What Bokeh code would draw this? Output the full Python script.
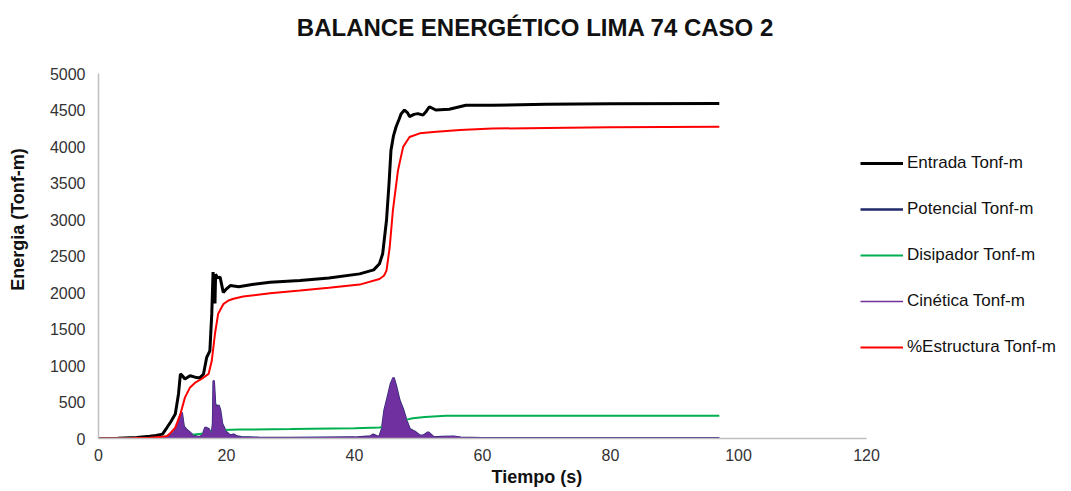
from bokeh.plotting import figure
from bokeh.models import Range1d, Legend, LegendItem, FixedTicker, Title, Label
from bokeh.embed import file_html
from bokeh.resources import INLINE

# ---- data ----
t_entrada = [0, 3, 6, 8, 9, 10, 10.7, 11.3, 12, 12.5, 12.8, 13.1, 13.5, 14.3, 15.1, 15.8, 16.4,
             16.9, 17.4, 17.7, 17.9, 18.1, 18.2, 18.3, 18.6, 19.0, 19.5, 20.0, 20.6, 21.9, 24,
             26.8, 31.5, 36, 40.8, 43, 43.9, 44.4, 45.0, 45.4, 45.7, 46.1, 46.5, 47.0, 47.3,
             47.8, 48.3, 48.6, 49.3, 49.9, 50.7, 51.2, 51.7, 52.7, 54.8, 57.4, 61.5, 69.9, 80, 97]
e_entrada = [0, 5, 15, 30, 40, 60, 150, 230, 335, 610, 885, 860, 815, 860, 840, 830, 880,
             1110, 1200, 1710, 2280, 2000, 1850, 2250, 2200, 2210, 2000, 2050, 2095, 2080, 2110,
             2140, 2163, 2200, 2255, 2310, 2395, 2530, 2990, 3500, 3950, 4150, 4270, 4380, 4450,
             4500, 4460, 4410, 4440, 4450, 4430, 4480, 4545, 4500, 4510, 4565, 4565, 4580, 4585, 4590]

t_estructura = [0, 5, 8, 10, 10.7, 11.3, 12, 12.8, 13.5, 14.3, 15.1, 16.1, 17.2, 17.7, 18.2, 18.7,
                19.5, 20.3, 21.1, 22.6, 26.8, 31.5, 36, 40.8, 43.9, 44.6, 45.0, 45.5, 46.0, 46.8,
                47.6, 48.6, 50.2, 52.3, 56.5, 61.5, 70, 80, 97]
e_estructura = [0, 3, 10, 25, 35, 80, 150, 335, 560, 700, 765, 815, 885, 1065, 1435, 1710,
                1840, 1890, 1915, 1945, 1990, 2026, 2065, 2108, 2185, 2230, 2300, 2620, 3125, 3675,
                3995, 4130, 4180, 4200, 4225, 4245, 4255, 4265, 4270]

t_disipador = [0, 10, 11.7, 12.5, 13.8, 15, 16.5, 17.5, 18.5, 19.5, 22, 30, 40, 43.9, 46, 47, 48,
               49.1, 51, 54.3, 60, 97]
e_disipador = [0, 0, 5, 15, 35, 55, 70, 85, 100, 117, 122, 130, 142, 150, 175, 220, 255,
               277, 295, 310, 312, 312]

t_cin = [0, 10, 11, 11.8, 12.4, 12.8, 13.0, 13.3, 13.8, 14.3, 14.8, 15.5, 16.0, 16.4, 16.7, 17.2,
         17.7, 17.9, 18.0, 18.2, 18.4, 18.75, 19.0, 19.3, 19.9, 20.6, 21.1, 21.6, 22.3, 25, 30,
         35, 40, 42.5, 42.9, 43.4, 43.9, 44.3, 44.7, 45.2, 45.7, 46.1, 46.5, 47.0, 47.6, 48.1,
         48.6, 49.4, 50.2, 50.8, 51.5, 52.3, 53.0, 53.7, 55.5, 56.6, 60, 97]
e_cinetica = [0, 5, 20, 80, 180, 330, 360, 160, 110, 80, 35, 20, 25, 70, 150, 125,
              40, 200, 800, 470, 420, 450, 380, 195, 85, 35, 50, 25, 15, 10, 8,
              10, 12, 25, 50, 30, 20, 120, 380, 560, 745, 835, 700, 515, 380, 240,
              125, 90, 35, 40, 80, 20, 15, 20, 25, 10, 5, 5]
e_potencial = [0, 4, 18, 78, 175, 325, 355, 165, 112, 78, 38, 22, 24, 72, 148, 128,
               42, 205, 790, 480, 425, 455, 385, 200, 88, 38, 52, 27, 16, 10, 8,
               10, 12, 27, 52, 32, 22, 125, 385, 565, 750, 830, 710, 525, 390, 245,
               130, 92, 38, 42, 82, 22, 16, 20, 24, 10, 5, 5]

labels = ["Entrada Tonf-m", "Potencial Tonf-m", "Disipador Tonf-m", "Cinética Tonf-m",
          "%Estructura Tonf-m"]
x_ticks = [0, 20, 40, 60, 80, 100, 120]
y_ticks = [0, 500, 1000, 1500, 2000, 2500, 3000, 3500, 4000, 4500, 5000]
chart_title = "BALANCE ENERGÉTICO LIMA 74 CASO 2"
x_label = "Tiempo (s)"
y_label = "Energia (Tonf-m)"

FONT = "Liberation Sans"
W, H = 1071, 491
LEFT = 98
BOTTOM = 53
PX_X = 6.4                      # pixels per second on the time axis
PX_Y = (H - BOTTOM - 73) / 5000  # pixels per Tonf-m (5000 sits 73 px below the top)
X_END = (W - LEFT) / PX_X        # extra room on the right holds the legend
Y_END = (H - BOTTOM) / PX_Y      # extra room on top holds the title

p = figure(width=W, height=H, output_backend="svg", toolbar_location=None,
           x_range=Range1d(0, X_END), y_range=Range1d(0, Y_END),
           min_border_left=LEFT, min_border_right=0, min_border_top=0, min_border_bottom=BOTTOM)
p.background_fill_color = "white"
p.border_fill_color = "white"
p.outline_line_color = None
p.grid.visible = False

for ax in (p.xaxis, p.yaxis):
    ax.axis_line_color = "#BFBFBF"
    ax.axis_line_width = 1.5
    ax.major_tick_line_color = None
    ax.minor_tick_line_color = None
    ax.major_tick_out = 0
    ax.major_tick_in = 0
    ax.minor_tick_out = 0
    ax.minor_tick_in = 0
    ax.major_label_text_font = FONT
    ax.major_label_text_font_size = "16px"
    ax.major_label_text_color = "#333333"
    ax.axis_label_text_font = FONT
    ax.axis_label_text_font_size = "18px"
    ax.axis_label_text_font_style = "bold"
    ax.axis_label_text_color = "#111111"

p.xaxis.ticker = FixedTicker(ticks=x_ticks)
p.xaxis.bounds = (x_ticks[0], x_ticks[-1])
p.yaxis.ticker = FixedTicker(ticks=y_ticks)
p.yaxis.bounds = (y_ticks[0], y_ticks[-1])
p.yaxis.axis_label = y_label
p.xaxis.major_label_standoff = 10
p.yaxis.major_label_standoff = 13
p.yaxis.axis_label_standoff = 19

xt = Title(text=x_label, align="left", offset=393, text_font=FONT, text_font_size="18px",
           text_font_style="bold", text_color="#111111", standoff=2)
p.add_layout(xt, "below")

p.add_layout(Label(x=(535 - LEFT) / PX_X, y=Y_END - 27 / PX_Y, text=chart_title,
                   text_font=FONT, text_font_size="24px", text_font_style="bold",
                   text_color="#111111", text_align="center", text_baseline="middle"))

r_ent = p.line(t_entrada, e_entrada, line_color="#000000", line_width=3)
r_pot = p.line(t_cin, e_potencial, line_color="#1F2A6B", line_width=2.5)
r_dis = p.line(t_disipador, e_disipador, line_color="#00B050", line_width=2)
p.varea(x=t_cin, y1=[0] * len(t_cin), y2=e_cinetica, fill_color="#7030A0", fill_alpha=1.0)
r_cin = p.line(t_cin, e_cinetica, line_color="#7030A0", line_width=1.5)
r_est = p.line(t_estructura, e_estructura, line_color="#FF0000", line_width=2)

legend = Legend(items=[
    LegendItem(label=labels[0], renderers=[r_ent]),
    LegendItem(label=labels[1], renderers=[r_pot]),
    LegendItem(label=labels[2], renderers=[r_dis]),
    LegendItem(label=labels[3], renderers=[r_cin]),
    LegendItem(label=labels[4], renderers=[r_est]),
], location=(762, 81))
legend.border_line_color = None
legend.background_fill_alpha = 0
legend.label_text_font = FONT
legend.label_text_font_size = "17px"
legend.label_text_color = "#111111"
legend.glyph_width = 43
legend.glyph_height = 20
legend.label_height = 20
legend.label_standoff = 4
legend.spacing = 26
legend.padding = 0
legend.margin = 0
p.add_layout(legend, "center")

open("out.html", "w").write(file_html(p, INLINE))
